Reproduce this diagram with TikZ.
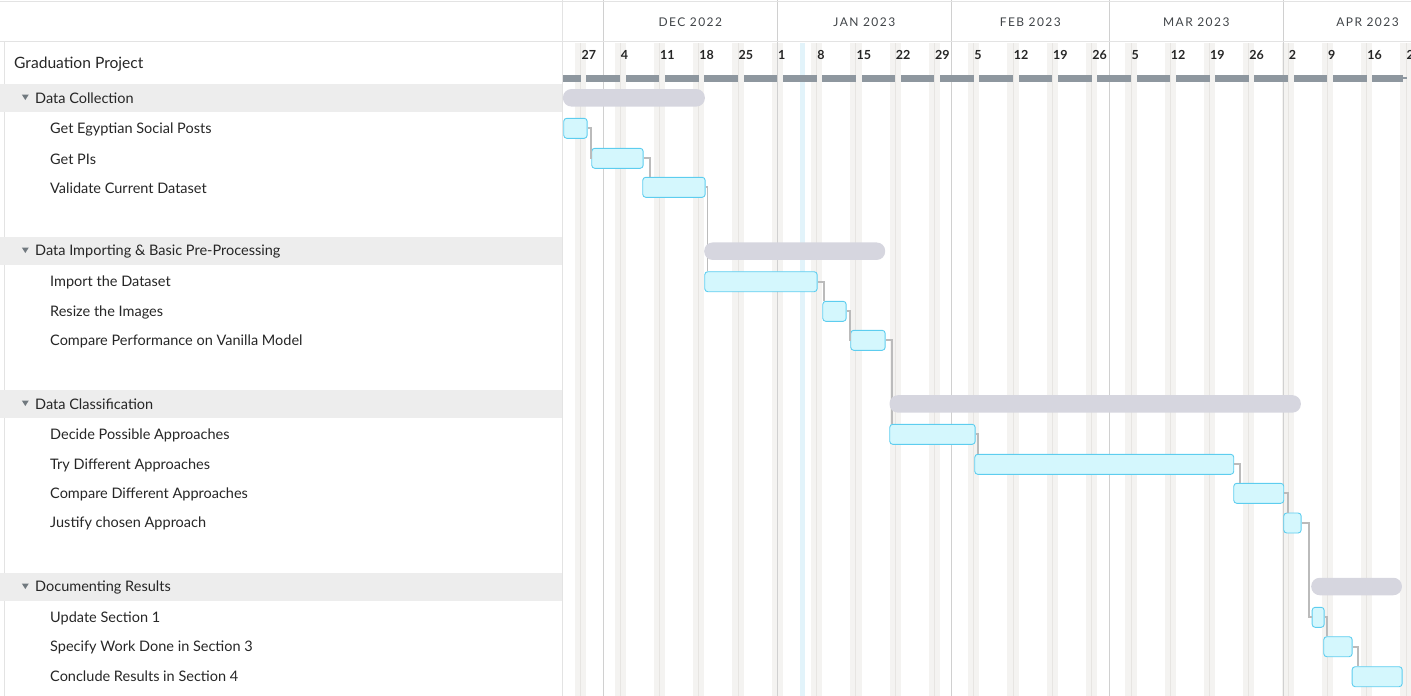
\documentclass[tikz,border=0pt]{standalone}
\usepackage{fontspec}
\setmainfont{Lato}
\newfontfamily\monthfont[LetterSpace=12]{Lato}
\usetikzlibrary{positioning}
\definecolor{GanttTask}{HTML}{D4F7FD}
\definecolor{GanttTaskLine}{HTML}{5DCDEF}
\definecolor{GanttSum}{HTML}{D6D6DF}
\definecolor{GanttHead}{HTML}{8E979F}
\definecolor{GanttLink}{HTML}{BBBBBB}
\definecolor{GanttBand}{HTML}{EDEDED}
\definecolor{GanttGrid}{HTML}{E3E3E3}
\definecolor{GanttMonth}{HTML}{D0D0D0}
\definecolor{GanttWeekend}{HTML}{F4F3F1}
\definecolor{GanttSunday}{HTML}{E7E5E2}
\definecolor{GanttToday}{HTML}{E2F3FA}
\definecolor{GanttText}{HTML}{262626}
\definecolor{GanttMonthText}{HTML}{404448}

\begin{document}
\begin{tikzpicture}[
  x=1pt,
  y=-1pt,
  every node/.style={inner sep=0pt, text=GanttText, font=\fontsize{14.5}{17}\selectfont},
  rowlabel/.style={anchor=west},
  task/.style={draw=GanttTaskLine, fill=GanttTask, line width=0.9pt, rounded corners=3pt, minimum height=20pt, anchor=west},
  sumbar/.style={fill=GanttSum, rounded corners=8.5pt, minimum height=17.5pt, anchor=west},
  link/.style={draw=GanttLink, line width=1.9pt},
  band/.style={fill=GanttBand}
]
\useasboundingbox (0,0) rectangle (1411,696);

% weekends, today, month lines
\foreach \k in {0,...,21} {
  \fill[GanttWeekend] ({575.24+39.29*\k},43) rectangle +(11.23,653);
  \draw[GanttSunday, line width=0.8pt] ({580.85+39.29*\k},43) -- +(0,653);
}
\fill[GanttToday] (799.75,43) rectangle (805.4,696);
\foreach \m in {603.3,777.3,951.3,1109.3,1283.3}
  \draw[GanttMonth, line width=0.9pt] (\m,0) -- (\m,696);

% frame
\draw[GanttGrid, line width=0.9pt] (0,1.5) -- (1411,1.5);
\draw[GanttGrid, line width=0.9pt] (0,41) -- (1411,41);
\draw[GanttGrid, line width=0.9pt] (4,41) -- (4,696);
\draw[GanttGrid, line width=0.9pt] (562,0) -- (562,696);

% header
\foreach \x/\name in {690.3/DEC 2022, 864.3/JAN 2023, 1030.3/FEB 2023, 1196.3/MAR 2023, 1367.5/APR 2023}
  \node[text=GanttMonthText, font=\monthfont\fontsize{12}{14}\selectfont] at (\x,22.5) {\name};
\foreach \d [count=\k from 0] in {27,4,11,18,25,1,8,15,22,29,5,12,19,26,5,12,19,26,2,9,16,23}
  \node[anchor=west, font=\bfseries\fontsize{12.5}{14}\selectfont] at ({581.35+39.29*\k},55) {\d};

% project bar
\fill[GanttHead] (562.7,75) rectangle (580.85,81.5);
\foreach \k in {0,...,19}
  \fill[GanttHead] ({586.47+39.29*\k},75) rectangle ({620.14+39.29*\k},81.5);
\fill[GanttHead] (1372.3,75) rectangle (1402.7,81.5);
\fill[GanttHead] (1402.7,77.3) rectangle (1407,79.2);

% rows
\fill[band] (0,84) rectangle (562,111.5);
\fill[band] (0,237) rectangle (562,264.5);
\fill[band] (0,390) rectangle (562,417.5);
\fill[band] (0,573) rectangle (562,600.5);
\foreach \y in {97.5,250.5,403.5,586.5}
  \fill[GanttHead!80!black] (21.8,{\y-3}) -- (28.8,{\y-3}) -- (25.3,{\y+2.5}) -- cycle;

\node[rowlabel, font=\fontsize{15.6}{18}\selectfont] (proj) at (14,64.5) {Graduation Project};
\node[rowlabel] (grpA) at (35,98.5) {Data Collection};
\node[rowlabel] (lblA1) at (50,129.5) {Get Egyptian Social Posts};
\node[rowlabel] (lblA2) at (50,159.5) {Get PIs};
\node[rowlabel] (lblA3) at (50,188.5) {Validate Current Dataset};
\node[rowlabel] (grpB) at (35,251.5) {Data Importing \& Basic Pre-Processing};
\node[rowlabel] (lblB1) at (50,282.5) {Import the Dataset};
\node[rowlabel] (lblB2) at (50,312.5) {Resize the Images};
\node[rowlabel] (lblB3) at (50,341.5) {Compare Performance on Vanilla Model};
\node[rowlabel] (grpC) at (35,404.5) {Data Classification};
\node[rowlabel] (lblC1) at (50,435.5) {Decide Possible Approaches};
\node[rowlabel] (lblC2) at (50,465.5) {Try Different Approaches};
\node[rowlabel] (lblC3) at (50,494.5) {Compare Different Approaches};
\node[rowlabel] (lblC4) at (50,523.5) {Justify chosen Approach};
\node[rowlabel] (grpD) at (35,587.5) {Documenting Results};
\node[rowlabel] (lblD1) at (50,618.5) {Update Section 1};
\node[rowlabel] (lblD2) at (50,647.5) {Specify Work Done in Section 3};
\node[rowlabel] (lblD3) at (50,676.5) {Conclude Results in Section 4};

% tasks
\node[task, minimum width=23.4] (barA1) at (563.3,128.3) {};
\node[task, minimum width=51.4] (barA2) at (591.3,158.3) {};
\node[task, minimum width=62.4] (barA3) at (642.3,187.3) {};
\node[task, minimum width=112.4] (barB1) at (704.3,281.7) {};
\node[task, minimum width=23.4] (barB2) at (822.3,311.3) {};
\node[task, minimum width=34.4] (barB3) at (850.3,340.3) {};
\node[task, minimum width=85.4] (barC1) at (889.3,434.3) {};
\node[task, minimum width=259] (barC2) at (974.3,464.3) {};
\node[task, minimum width=50] (barC3) at (1233.3,493.3) {};
\node[task, minimum width=17.4] (barC4) at (1283.3,523) {};
\node[task, minimum width=12] (barD1) at (1311.7,617.3) {};
\node[task, minimum width=28.4] (barD2) at (1323.3,646.7) {};
\node[task, minimum width=50] (barD3) at (1351.7,676.7) {};

% dependencies
\draw[link] (barA1.east) -- ++(3.3,0) |- (barA2.west);
\draw[link] (barA2.east) -| ([xshift=7.7]barA3.north west);
\draw[link] (barA3.east) -| ([xshift=3.2]barB1.north west);
\draw[link] (barB1.east) -| ([xshift=1.7]barB2.north west);
\draw[link] (barB2.east) -- ++(3.3,0) |- (barB3.west);
\draw[link] (barB3.east) -| ([xshift=2.4]barC1.north west);
\draw[link] (barC1.east) -| ([xshift=4]barC2.north west);
\draw[link] (barC2.east) -| ([xshift=6.7]barC3.north west);
\draw[link] (barC3.east) -| ([xshift=5]barC4.north west);
\draw[link] (barC4.east) -- ++(7,0) |- (barD1.west);
\draw[link] (barD1.east) -| ([xshift=3.4]barD2.north west);
\draw[link] (barD2.east) -| ([xshift=6.6]barD3.north west);

% summaries
\node[sumbar, minimum width=142] (sumA) at (562.7,97.8) {};
\node[sumbar, minimum width=181] (sumB) at (704,251.2) {};
\node[sumbar, minimum width=411.4] (sumC) at (889.3,403.9) {};
\node[sumbar, minimum width=90.7] (sumD) at (1311,586.5) {};
\end{tikzpicture}
\end{document}
